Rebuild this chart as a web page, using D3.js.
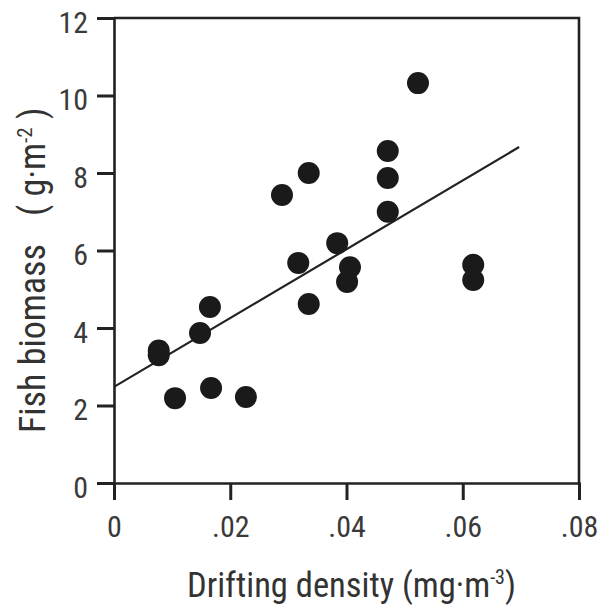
<!DOCTYPE html>
<html>
<head>
<meta charset="utf-8">
<script src="https://cdn.jsdelivr.net/npm/d3@7"></script>
<style>
  body { margin: 0; background: #fff; }
  svg { display: block; }
</style>
</head>
<body>
<div id="container"></div>
<script>
/* DATA */
const drift = [0.0077, 0.0077, 0.0105, 0.0148, 0.0165, 0.0167, 0.0227, 0.0289, 0.0317, 0.0335,
  0.0335, 0.0384, 0.0401, 0.0406, 0.0471, 0.0471, 0.0471, 0.0523, 0.0618, 0.0618]
const biomass = [3.42, 3.30, 2.19, 3.87, 4.54, 2.45, 2.22, 7.43, 5.68, 8.00,
  4.62, 6.19, 5.19, 5.57, 7.00, 7.87, 8.57, 10.32, 5.63, 5.24]
const fitX = [0, 0.0697]
const fitY = [2.48, 8.67]
const xTicks = [0, 0.02, 0.04, 0.06, 0.08]
const yTicks = [0, 2, 4, 6, 8, 10, 12]

/* CONSTANTS */
const width = 601,
  height = 613,
  margin = { top: 18, bottom: 130, left: 114, right: 22 }
const font = "'Liberation Sans Narrow', 'Roboto Condensed', 'DejaVu Sans Condensed', sans-serif"
const ink = "#222"

const points = drift.map((d, i) => ({ x: d, y: biomass[i] }))
const fit = fitX.map((d, i) => ({ x: d, y: fitY[i] }))

// SCALES
const xScale = d3.scaleLinear()
  .domain([0, 0.08])
  .range([margin.left, width - margin.right])

const yScale = d3.scaleLinear()
  .domain([0, 12])
  .range([height - margin.bottom, margin.top])

// SVG
const svg = d3.select("#container")
  .append("svg")
  .attr("width", width)
  .attr("height", height)

// AXES
const xAxis = d3.axisBottom(xScale)
  .tickValues(xTicks)
  .tickSize(17)
  .tickPadding(16)
  .tickFormat(d => d === 0 ? "0" : d3.format(".2f")(d).replace(/^0/, ""))

const yAxis = d3.axisLeft(yScale)
  .tickValues(yTicks)
  .tickSize(17)
  .tickPadding(9)
  .tickFormat(d3.format("d"))

const xg = svg.append("g")
  .attr("transform", `translate(0, ${height - margin.bottom})`)
  .call(xAxis)

const yg = svg.append("g")
  .attr("transform", `translate(${margin.left}, 0)`)
  .call(yAxis)

for (const g of [xg, yg]) {
  g.attr("font-family", font).attr("font-size", 30)
  g.select(".domain").attr("stroke", ink).attr("stroke-width", 2.6)
  g.selectAll(".tick line").attr("stroke", ink).attr("stroke-width", 3)
  g.selectAll(".tick text").attr("fill", "#3a3a3a")
}
yg.selectAll(".tick text").attr("dy", "0.47em")

// top and right frame
svg.append("path")
  .attr("d", `M${xScale(0)},${yScale(12)}H${xScale(0.08)}V${yScale(0)}`)
  .attr("fill", "none")
  .attr("stroke", ink)
  .attr("stroke-width", 2.6)

// AXIS TITLES
const yTitle = svg.append("text")
  .attr("transform", `translate(45, 433) rotate(-90)`)
  .attr("font-family", font)
  .attr("font-size", 36)
  .attr("fill", "#333")
yTitle.append("tspan").text("Fish biomass")
yTitle.append("tspan").attr("dx", 28).text("( g·m")
yTitle.append("tspan").attr("font-size", 21).attr("dy", -13).text("-2")
yTitle.append("tspan").attr("dy", 13).text(" )")

const xTitle = svg.append("text")
  .attr("x", 187)
  .attr("y", 597)
  .attr("font-family", font)
  .attr("font-size", 34.5)
  .attr("fill", "#333")
xTitle.append("tspan").text("Drifting density (mg·m")
xTitle.append("tspan").attr("font-size", 20).attr("dy", -13).text("-3")
xTitle.append("tspan").attr("dy", 13).text(")")

// REGRESSION LINE
const lineGen = d3.line()
  .x(d => xScale(d.x))
  .y(d => yScale(d.y))

svg.append("path")
  .attr("d", lineGen(fit))
  .attr("fill", "none")
  .attr("stroke", ink)
  .attr("stroke-width", 2.2)

// POINTS
svg.selectAll(".dot")
  .data(points)
  .join("circle")
  .attr("class", "dot")
  .attr("cx", d => xScale(d.x))
  .attr("cy", d => yScale(d.y))
  .attr("r", 11)
  .attr("fill", "#1a1a1a")
</script>
</body>
</html>
